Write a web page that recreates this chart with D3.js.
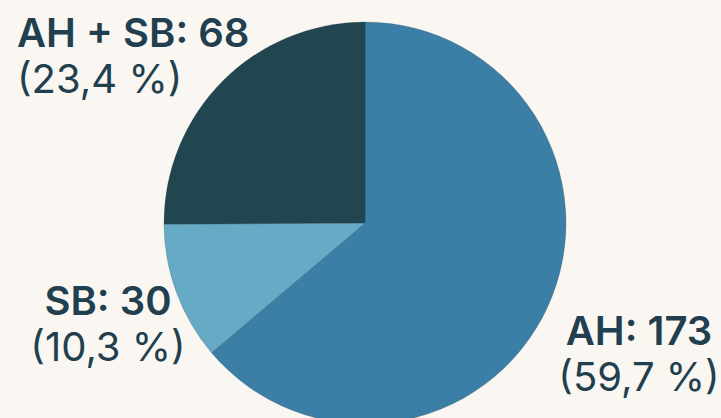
<!DOCTYPE html>
<html>
<head>
<meta charset="utf-8">
<script src="https://cdn.jsdelivr.net/npm/d3@7"></script>
<style>
  html, body { margin: 0; padding: 0; background: #faf7f2; }
  svg { display: block; }
  text { font-family: Inter, "Open Sans", sans-serif; fill: #213f4e; }
</style>
</head>
<body>
<div id="chart"></div>
<script>
// data
var categories = ['AH', 'SB', 'AH + SB'];
var values = [173, 30, 68];
var percentLabels = ['59,7 %', '10,3 %', '23,4 %'];
var colors = ['#3c7fa6', '#67aac5', '#22464f'];

// label blocks: x, baseline of first line, anchor
var labelPos = [[639, 345, 'middle'], [108, 315, 'middle'], [17, 47, 'start']];

var width = 721, height = 418;
var cx = 365, cy = 223, radius = 201;

var svg = d3.select('#chart')
            .append('svg')
            .attr('width', width)
            .attr('height', height);

var pie = d3.pie().sort(null).value(function(d) { return d; });
var arc = d3.arc().innerRadius(0).outerRadius(radius);

var g = svg.append('g').attr('transform', 'translate(' + cx + ',' + cy + ')');

g.selectAll('path')
  .data(pie(values))
  .enter()
  .append('path')
  .attr('d', arc)
  .attr('fill', function(d, i) { return colors[i]; })
  .attr('stroke', 'rgba(20,50,60,0.25)')
  .attr('stroke-width', 0.8);

// labels, two lines each
var labels = svg.selectAll('g.label')
  .data(categories)
  .enter()
  .append('g')
  .attr('class', 'label')
  .attr('transform', function(d, i) { return 'translate(' + labelPos[i][0] + ',' + labelPos[i][1] + ')'; });

labels.append('text')
  .attr('text-anchor', function(d, i) { return labelPos[i][2]; })
  .attr('font-size', 40)
  .attr('font-weight', 600)
  .text(function(d, i) { return d + ': ' + values[i]; });

labels.append('text')
  .attr('text-anchor', function(d, i) { return labelPos[i][2]; })
  .attr('y', 46)
  .attr('font-size', 40)
  .attr('font-weight', 400)
  .text(function(d, i) { return '(' + percentLabels[i] + ')'; });
</script>
</body>
</html>
